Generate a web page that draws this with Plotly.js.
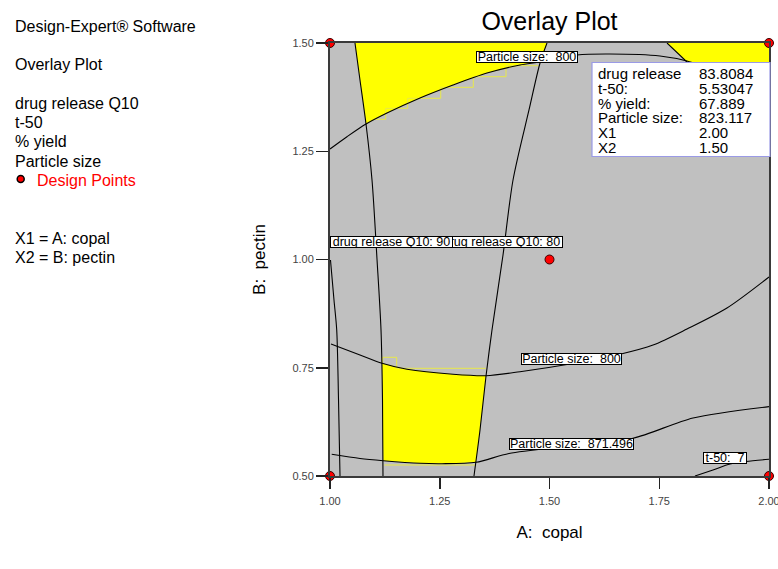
<!DOCTYPE html>
<html>
<head>
<meta charset="utf-8">
<script src="https://cdn.plot.ly/plotly-3.0.1.min.js"></script>
<style>html,body{margin:0;padding:0;background:#fff;}#chart{width:778px;height:569px;}</style>
</head>
<body>
<div id="chart"></div>
<script>
// ---- axis ticks ----
const xTickVals = [1.00, 1.25, 1.50, 1.75, 2.00];
const xTickText = ['1.00', '1.25', '1.50', '1.75', '2.00'];
const yTickVals = [0.50, 0.75, 1.00, 1.25, 1.50];
const yTickText = ['0.50', '0.75', '1.00', '1.25', '1.50'];

// ---- contour lines ----
const q10_90_x = [1.0569, 1.0683, 1.0820, 1.0957, 1.1071, 1.1162, 1.1196, 1.1207];
const q10_90_y = [1.5000, 1.4146, 1.3129, 1.1836, 1.0000, 0.8372, 0.6755, 0.5000];

const q10_80_x = [1.4943, 1.4784, 1.4533, 1.4169, 1.3941, 1.3690, 1.3554, 1.3417, 1.3280];
const q10_80_y = [1.5000, 1.4538, 1.3453, 1.1836, 1.0104, 0.8372, 0.7310, 0.6062, 0.5000];

const q10_hi_x = [1.0011, 1.0091, 1.0153, 1.0194, 1.0228];
const q10_hi_y = [0.9988, 0.9065, 0.8372, 0.6755, 0.5000];

const ps800a_x = [1.0000, 1.0387, 1.0820, 1.1298, 1.2050, 1.2802, 1.3576, 1.4328, 1.4784, 1.5626, 1.6378, 1.7517, 1.8132, 1.8884];
const ps800a_y = [1.2552, 1.2836, 1.3129, 1.3383, 1.3730, 1.4030, 1.4307, 1.4492, 1.4561, 1.4723, 1.4746, 1.4700, 1.4584, 1.4330];

const topRight_x = [1.7677, 1.8132, 1.8428];
const topRight_y = [1.5000, 1.4561, 1.4261];

const ps800b_x = [1.0023, 1.0683, 1.1185, 1.1754, 1.2802, 1.3554, 1.4328, 1.5467, 1.6629, 1.7358, 1.8132, 1.9043, 2.0000];
const ps800b_y = [0.8048, 0.7794, 0.7603, 0.7464, 0.7349, 0.7316, 0.7409, 0.7587, 0.7818, 0.8025, 0.8395, 0.8880, 0.9596];

const ps871_x = [1.0039, 1.0683, 1.1214, 1.2050, 1.2551, 1.3326, 1.4077, 1.5467, 1.6902, 1.8269, 2.0000];
const ps871_y = [0.5501, 0.5404, 0.5353, 0.5293, 0.5284, 0.5316, 0.5520, 0.5693, 0.5871, 0.6339, 0.6602];

const t50_x = [1.8314, 1.8724, 1.9112, 1.9476, 2.0000];
const t50_y = [0.5000, 0.5139, 0.5277, 0.5335, 0.5386];

// ---- feasible (yellow) regions ----
const regionTop_x = [1.0569, 1.4943, 1.4784, 1.4328, 1.3576, 1.2802, 1.2050, 1.1298, 1.0820, 1.0683, 1.0569];
const regionTop_y = [1.5000, 1.5000, 1.4561, 1.4492, 1.4307, 1.4030, 1.3730, 1.3383, 1.3129, 1.4146, 1.5000];

const regionTR_x = [1.7677, 2.0000, 2.0000, 1.8300, 1.8132, 1.7677];
const regionTR_y = [1.5000, 1.5000, 1.4300, 1.4300, 1.4561, 1.5000];

const regionLow_x = [1.1185, 1.1754, 1.2802, 1.3554, 1.3417, 1.3326, 1.2551, 1.2050, 1.1214, 1.1196, 1.1185];
const regionLow_y = [0.7603, 0.7464, 0.7349, 0.7316, 0.6062, 0.5316, 0.5284, 0.5293, 0.5353, 0.6755, 0.7603];

// faint grid-edge outlines of the regions
const stepTop_x = [1.1025, 1.1269, 1.1269, 1.1770, 1.1770, 1.2522, 1.2522, 1.3264, 1.3264, 1.4009, 1.4009, 1.4745];
const stepTop_y = [1.3238, 1.3238, 1.3492, 1.3492, 1.3723, 1.3723, 1.3977, 1.3977, 1.4222, 1.4222, 1.4476, 1.4476];
const stepLowA_x = [1.1200, 1.1200, 1.1519, 1.1519, 1.3547];
const stepLowA_y = [0.7603, 0.7741, 0.7741, 0.7487, 0.7487];
const stepLowB_x = [1.1237, 1.3303];
const stepLowB_y = [0.5254, 0.5254];

// ---- design points ----
const designX = [1.00, 2.00, 1.00, 2.00, 1.50];
const designY = [1.50, 1.50, 0.50, 0.50, 1.00];

// ---- text ----
const sideLines = ['Design-Expert® Software', 'Overlay Plot', 'drug release Q10', 't-50', '% yield', 'Particle size'];
const sideLinesPx = [26.7, 64.3, 103.3, 122.7, 141.7, 161.7];
const factorLines = ['X1 = A: copal', 'X2 = B: pectin'];
const factorLinesPx = [238.3, 257.3];
const infoLabels = ['drug release', 't-50:', '% yield:', 'Particle size:', 'X1', 'X2'];
const infoValues = ['83.8084', '5.53047', '67.889', '823.117', '2.00', '1.50'];

const contourLabels = [
  {text: 'drug release Q10: 80', x: 1.3900, y: 1.0400, w: 121},
  {text: 'drug release Q10: 90', x: 1.1401, y: 1.0400, w: 121},
  {text: 'Particle size:\u00a0 800', x: 1.4487, y: 1.4688, w: 100},
  {text: 'Particle size:\u00a0 800', x: 1.5497, y: 0.7691, w: 99},
  {text: 'Particle size:\u00a0 871.496', x: 1.5490, y: 0.5744, w: 123},
  {text: 't-50:\u00a0 7', x: 1.8998, y: 0.5416, w: 42}
];

// ---- geometry helpers (plot area 330..769 x 43..476 px) ----
const W = 778, H = 569, L = 330, R = 9, T = 43, B = 93;
const pw = W - L - R, ph = H - T - B;
const px2paperX = p => (p - L) / pw;
const px2paperY = p => (H - B - p) / ph;
const FONT = 'Arial, "Liberation Sans", sans-serif';

function contour(x, y) {
  return {x: x, y: y, type: 'scatter', mode: 'lines', line: {color: '#000000', width: 1.1, shape: 'spline', smoothing: 0.8},
          hoverinfo: 'skip', showlegend: false};
}
function region(x, y) {
  return {x: x, y: y, type: 'scatter', mode: 'lines', fill: 'toself', fillcolor: '#FFFF00',
          line: {width: 0, color: '#FFFF00'}, hoverinfo: 'skip', showlegend: false};
}
function step(x, y) {
  return {x: x, y: y, type: 'scatter', mode: 'lines', line: {color: '#E8E84A', width: 1}, hoverinfo: 'skip', showlegend: false};
}

const traces = [
  region(regionTop_x, regionTop_y),
  region(regionTR_x, regionTR_y),
  region(regionLow_x, regionLow_y),
  step(stepTop_x, stepTop_y),
  step(stepLowA_x, stepLowA_y),
  step(stepLowB_x, stepLowB_y),
  contour(q10_90_x, q10_90_y),
  contour(q10_80_x, q10_80_y),
  contour(q10_hi_x, q10_hi_y),
  contour(ps800a_x, ps800a_y),
  contour(topRight_x, topRight_y),
  contour(ps800b_x, ps800b_y),
  contour(ps871_x, ps871_y),
  contour(t50_x, t50_y),
  {x: designX, y: designY, type: 'scatter', mode: 'markers', cliponaxis: false,
   marker: {color: '#FF0000', size: 9, line: {color: '#3a0000', width: 1}}, hoverinfo: 'skip', showlegend: false}
];

const annotations = [];
sideLines.forEach((t, i) => annotations.push({
  text: t, xref: 'paper', yref: 'paper', x: px2paperX(13), y: px2paperY(sideLinesPx[i]),
  xanchor: 'left', yanchor: 'middle', showarrow: false, font: {family: FONT, size: 16, color: '#000'}
}));
annotations.push({
  text: 'Design Points', xref: 'paper', yref: 'paper', x: px2paperX(35), y: px2paperY(180.7),
  xanchor: 'left', yanchor: 'middle', showarrow: false, font: {family: FONT, size: 16, color: '#FF0000'}
});
factorLines.forEach((t, i) => annotations.push({
  text: t, xref: 'paper', yref: 'paper', x: px2paperX(13), y: px2paperY(factorLinesPx[i]),
  xanchor: 'left', yanchor: 'middle', showarrow: false, font: {family: FONT, size: 16, color: '#000'}
}));
contourLabels.forEach(c => annotations.push({
  text: c.text, xref: 'x', yref: 'y', x: c.x, y: c.y, xanchor: 'center', yanchor: 'middle',
  showarrow: false, bgcolor: '#FFFFFF', bordercolor: '#000000', borderwidth: 1, borderpad: 0,
  width: c.w, height: 10, font: {family: FONT, size: 12.5, color: '#000'}
}));
infoLabels.forEach((t, i) => {
  const py = 73.5 + i * 14.8;
  annotations.push({text: t, xref: 'paper', yref: 'paper', x: px2paperX(596), y: px2paperY(py),
    xanchor: 'left', yanchor: 'middle', showarrow: false, font: {family: FONT, size: 15, color: '#000'}});
  annotations.push({text: infoValues[i], xref: 'paper', yref: 'paper', x: px2paperX(696.5), y: px2paperY(py),
    xanchor: 'left', yanchor: 'middle', showarrow: false, font: {family: FONT, size: 15, color: '#000'}});
});

const shapes = [
  {type: 'rect', xref: 'paper', yref: 'paper', layer: 'above',
   x0: px2paperX(592), x1: px2paperX(770), y0: px2paperY(156.5), y1: px2paperY(62.5),
   fillcolor: '#FFFFFF', line: {color: '#9A9AE6', width: 1.2}},
  {type: 'circle', xref: 'paper', yref: 'paper', xsizemode: 'pixel', ysizemode: 'pixel',
   xanchor: px2paperX(20.7), yanchor: px2paperY(179), x0: -3.5, x1: 3.5, y0: -3.5, y1: 3.5,
   fillcolor: '#FF0000', line: {color: '#000000', width: 1.5}}
];

const axisCommon = {
  showgrid: false, zeroline: false, showline: true, mirror: true, linecolor: '#3a3a3a', linewidth: 2,
  ticks: 'outside', tickcolor: '#222', tickwidth: 1.5, ticklabeloverflow: 'allow',
  tickfont: {family: FONT, size: 11, color: '#444'}, fixedrange: true
};

const layout = {
  width: W, height: H,
  margin: {l: L, r: R, t: T, b: B, pad: 0},
  paper_bgcolor: '#FFFFFF', plot_bgcolor: '#C0C0C0',
  title: {text: 'Overlay Plot', x: px2paperX(549.5), xref: 'paper', xanchor: 'center',
          y: 1 - 21.7 / H, yanchor: 'middle', font: {family: FONT, size: 25, color: '#000'}},
  xaxis: Object.assign({}, axisCommon, {range: [1, 2], tickvals: xTickVals, ticktext: xTickText, ticklen: 11,
          ticklabelstandoff: 3,
          title: {text: 'A:\u00a0 copal', standoff: 20, font: {family: FONT, size: 17, color: '#000'}}}),
  yaxis: Object.assign({}, axisCommon, {range: [0.5, 1.5], tickvals: yTickVals, ticktext: yTickText, ticklen: 12,
          title: {text: 'B:\u00a0 pectin', standoff: 22, font: {family: FONT, size: 17, color: '#000'}}}),
  annotations: annotations,
  shapes: shapes,
  showlegend: false
};

Plotly.newPlot('chart', traces, layout, {staticPlot: true, displayModeBar: false});
</script>
</body>
</html>
